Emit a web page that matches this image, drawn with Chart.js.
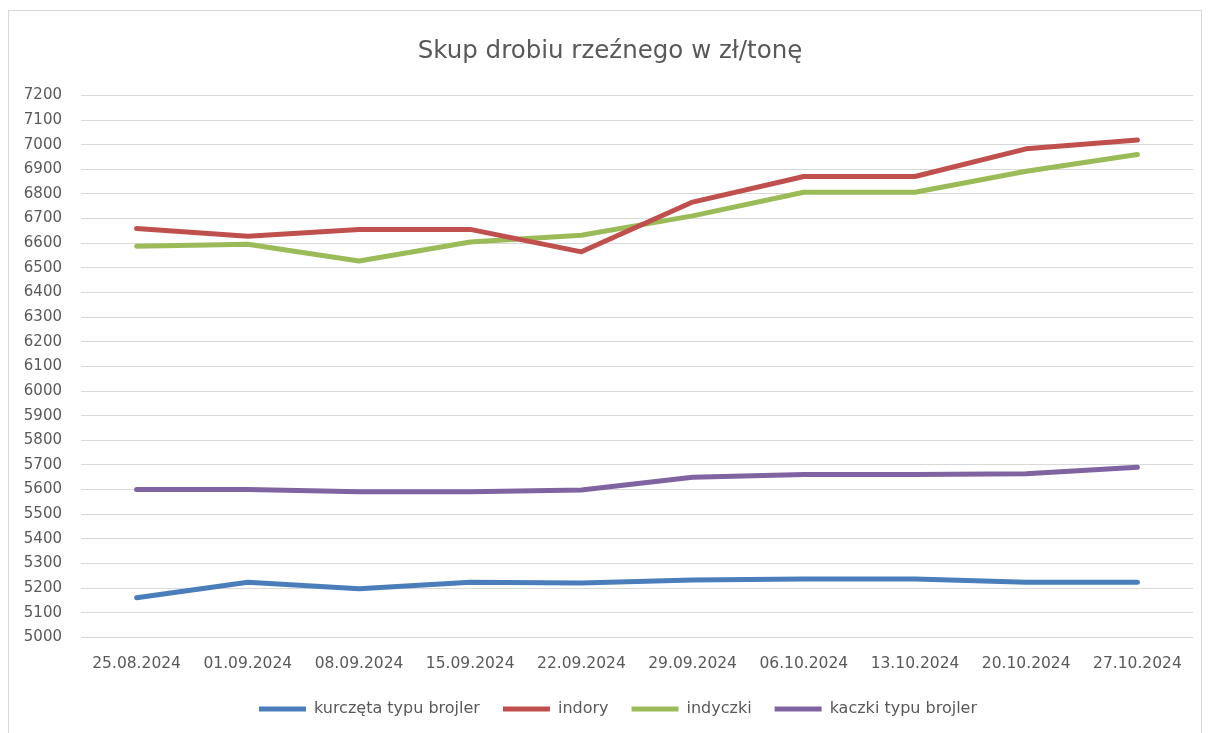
<!DOCTYPE html>
<html>
<head>
<meta charset="utf-8">
<script src="https://cdn.jsdelivr.net/npm/chart.js@4.4.1/dist/chart.umd.min.js"></script>
<style>
    body { margin: 0; background: #fff; }
    #ramka { position: absolute; left: 8px; top: 10px; width: 1192px; height: 730px; border: 1px solid #d9d9d9; }
</style>
</head>
<body>
<div id="ramka"><canvas id="skupChart" width="1192" height="722"></canvas></div>
<script>
// dane (zł/tonę)
const daty = ['25.08.2024', '01.09.2024', '08.09.2024', '15.09.2024', '22.09.2024',
              '29.09.2024', '06.10.2024', '13.10.2024', '20.10.2024', '27.10.2024'];
const kurczeta = [5161, 5224, 5197, 5224, 5221, 5233, 5237, 5237, 5224, 5224];
const indory   = [6660, 6628, 6656, 6656, 6565, 6767, 6871, 6871, 6983, 7019];
const indyczki = [6588, 6596, 6528, 6605, 6632, 6711, 6807, 6807, 6892, 6960];
const kaczki   = [5600, 5600, 5591, 5591, 5598, 5650, 5661, 5661, 5664, 5691];

const osYMin = 5000;
const osYMax = 7200;
const osYKrok = 100;

const szary = '#595959';
const czcionka = 'DejaVu Sans';

function seria(nazwa, dane, kolor) {
    return {
        label: nazwa,
        data: dane,
        borderColor: kolor,
        backgroundColor: kolor,
        borderWidth: 5,
        borderCapStyle: 'round',
        borderJoinStyle: 'round',
        pointRadius: 0,
        tension: 0
    };
}

// tytuł i legenda w Excelu są lekko przesunięte w prawo
const przesunBloki = {
    id: 'przesunBloki',
    afterLayout(chart) {
        if (chart.titleBlock) { chart.titleBlock.left += 9; chart.titleBlock.right += 9; }
        if (chart.legend) { chart.legend.left += 17; chart.legend.right += 17; }
    }
};

const ctx = document.getElementById('skupChart').getContext('2d');
new Chart(ctx, {
    type: 'line',
    data: {
        labels: daty,
        datasets: [
            seria('kurczęta typu brojler', kurczeta, '#4a7ebb'),
            seria('indory', indory, '#c0504d'),
            seria('indyczki', indyczki, '#9bbb59'),
            seria('kaczki typu brojler', kaczki, '#8064a2')
        ]
    },
    plugins: [przesunBloki],
    options: {
        responsive: false,
        animation: false,
        layout: { padding: { left: 0, right: 8, top: 0, bottom: 6 } },
        plugins: {
            title: {
                display: true,
                text: 'Skup drobiu rzeźnego w zł/tonę',
                color: szary,
                font: { family: czcionka, size: 24.5, weight: 'normal' },
                padding: { top: 26, bottom: 29 }
            },
            legend: {
                position: 'bottom',
                labels: {
                    color: szary,
                    font: { family: czcionka, size: 16 },
                    usePointStyle: true,
                    pointStyle: 'line',
                    pointStyleWidth: 47,
                    boxHeight: 5,
                    padding: 23
                }
            },
            tooltip: { enabled: false }
        },
        scales: {
            x: {
                offset: true,
                grid: { display: false, drawTicks: false },
                border: { display: false },
                ticks: { color: szary, font: { family: czcionka, size: 15.5 }, padding: 17, maxRotation: 0, autoSkip: false },
                afterFit: function(scale) {
                    scale.paddingLeft = 0;
                    scale.paddingRight = 0;
                    scale.height -= 12;
                }
            },
            y: {
                min: osYMin,
                max: osYMax,
                grid: { color: '#d9d9d9', lineWidth: 1, drawTicks: false },
                border: { display: false },
                ticks: {
                    stepSize: osYKrok, color: szary, font: { family: czcionka, size: 15 }, padding: 19,
                    callback: v => String(v)
                },
                afterFit: function(scale) {
                    scale.width = 72;
                }
            }
        }
    }
});
</script>
</body>
</html>
